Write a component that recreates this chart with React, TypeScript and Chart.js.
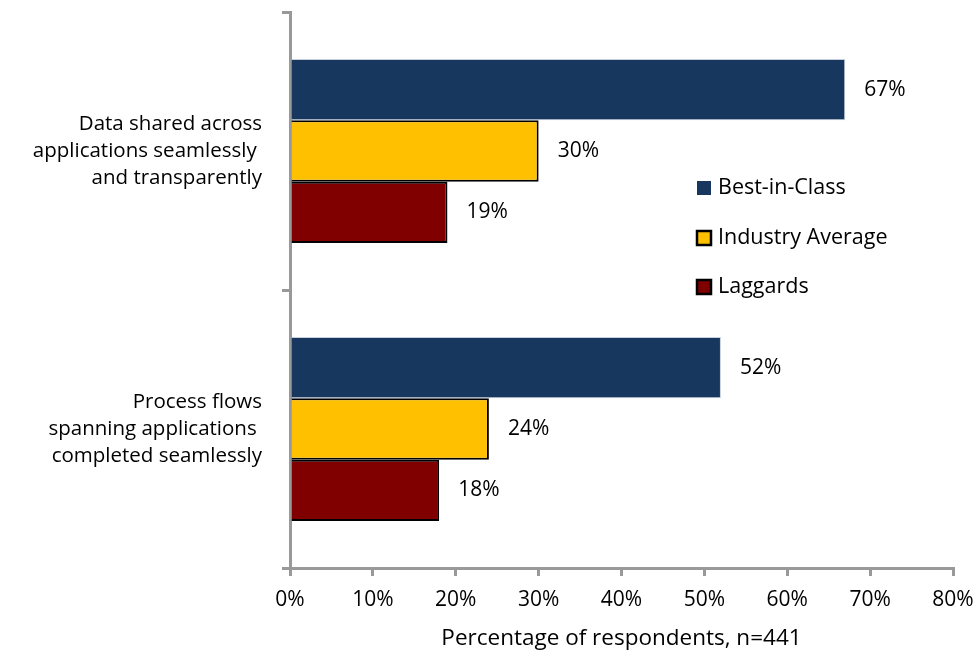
import React, { useEffect, useRef } from "react";
import { Chart, registerables } from "chart.js";

Chart.register(...registerables);

const categories: string[][] = [
  ["Data shared across", "applications seamlessly ", "and transparently"],
  ["Process flows", "spanning applications ", "completed seamlessly"],
];
const seriesNames = ["Best-in-Class", "Industry Average", "Laggards"];
const bestInClass = [67, 52];
const industryAverage = [30, 24];
const laggards = [19, 18];
const xTicksMax = 80;
const xTickStep = 10;
const xTitle = "Percentage of respondents, n=441";

const FONT = "'Open Sans', Lato, sans-serif";
const COLORS = ["#17375E", "#FFC000", "#800000"];

const dataLabelPlugin = {
  id: "dataLabels",
  afterDatasetsDraw(chart: any) {
    const ctx = chart.ctx;
    ctx.save();
    ctx.font = `21px ${FONT}`;
    ctx.fillStyle = "#000";
    ctx.textAlign = "left";
    ctx.textBaseline = "middle";
    chart.data.datasets.forEach((ds: any, di: number) => {
      const meta = chart.getDatasetMeta(di);
      meta.data.forEach((bar: any, i: number) => {
        ctx.fillText(`${ds.data[i]}%`, bar.x + 19, bar.y);
      });
    });
    ctx.restore();
  },
};

const legendPlugin = {
  id: "customLegend",
  afterDraw(chart: any) {
    const ctx = chart.ctx;
    ctx.save();
    ctx.font = `21.5px ${FONT}`;
    ctx.textAlign = "left";
    ctx.textBaseline = "middle";
    const x0 = 697;
    const ys = [188, 238, 287];
    chart.data.datasets.forEach((ds: any, i: number) => {
      const y = ys[i];
      ctx.fillStyle = ds.backgroundColor;
      ctx.fillRect(x0, y - 7, 14, 14);
      if (ds.borderColor === "#000") {
        ctx.strokeStyle = "#000";
        ctx.lineWidth = 2.5;
        ctx.strokeRect(x0, y - 7, 14, 14);
      }
      ctx.fillStyle = "#000";
      ctx.fillText(ds.label, x0 + 21, y);
    });
    ctx.restore();
  },
};

export default function App() {
  const ref = useRef<HTMLCanvasElement | null>(null);
  useEffect(() => {
    if (!ref.current) return;
    const chart = new Chart(ref.current, {
      type: "bar",
      data: {
        labels: categories as any,
        datasets: [
          {
            label: seriesNames[0],
            data: bestInClass,
            backgroundColor: COLORS[0],
            borderColor: "#C6D0DC",
            borderWidth: 1,
          },
          {
            label: seriesNames[1],
            data: industryAverage,
            backgroundColor: COLORS[1],
            borderColor: "#000",
            borderWidth: 2,
          },
          {
            label: seriesNames[2],
            data: laggards,
            backgroundColor: COLORS[2],
            borderColor: "#000",
            borderWidth: 2,
          },
        ],
      },
      options: {
        indexAxis: "y",
        animation: false,
        responsive: true,
        maintainAspectRatio: false,
        datasets: { bar: { barPercentage: 1, categoryPercentage: 0.662 } },
        layout: { padding: { top: 12, right: 22, left: 0, bottom: 0 } },
        plugins: { legend: { display: false }, tooltip: { enabled: false } },
        scales: {
          x: {
            min: 0,
            max: xTicksMax,
            ticks: {
              stepSize: xTickStep,
              callback: (v: any) => `${v}%`,
              color: "#000",
              font: { family: FONT, size: 21 },
              padding: 11,
              maxRotation: 0,
            },
            grid: {
              drawOnChartArea: false,
              drawTicks: true,
              tickLength: 8,
              color: "#999",
              lineWidth: 3,
            },
            border: { color: "#999", width: 3 },
            title: {
              display: true,
              text: xTitle,
              color: "#000",
              font: { family: FONT, size: 22.5 },
              padding: { top: 0, bottom: 0 },
            },
            afterFit: (s: any) => {
              s.height = 84;
              s.paddingLeft = 0;
              s.paddingRight = 0;
            },
          },
          y: {
            ticks: {
              color: "#000",
              font: { family: FONT, size: 20.5, lineHeight: 1.32 },
              padding: 20,
            },
            grid: {
              drawOnChartArea: false,
              drawTicks: true,
              tickLength: 8,
              color: "#999",
              lineWidth: 3,
              offset: true,
            },
            border: { color: "#999", width: 3 },
            afterFit: (s: any) => {
              s.width = 290;
              s.paddingTop = 0;
              s.paddingBottom = 0;
            },
          },
        },
      },
      plugins: [dataLabelPlugin, legendPlugin],
    });
    return () => chart.destroy();
  }, []);
  return (
    <div style={{ position: "fixed", left: 0, top: 0, width: 975, height: 652, background: "#fff" }}>
      <canvas ref={ref} />
    </div>
  );
}
